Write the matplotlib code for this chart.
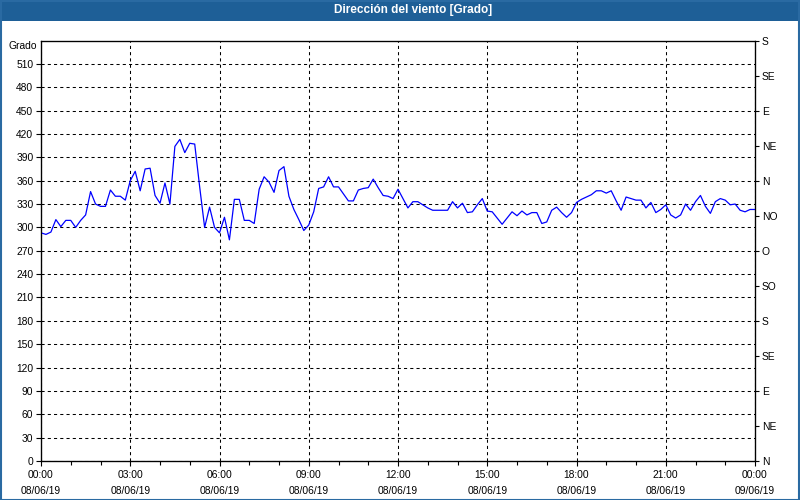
import matplotlib
matplotlib.use("Agg")
import matplotlib.pyplot as plt
import matplotlib.dates as mdates
from matplotlib.patches import Rectangle
import numpy as np
import pandas as pd

# ---- data ----
title = "Dirección del viento [Grado]"
start_time = "2019-06-08 00:00"
end_time = "2019-06-09 00:00"
sample_freq = "10min"
direction = [
    293, 291, 294, 310, 301, 309, 309, 300, 309, 316,
    346, 330, 327, 327, 348, 340, 340, 335, 360, 372,
    347, 375, 376, 341, 331, 357, 330, 404, 413, 396,
    408, 407, 352, 300, 326, 300, 293, 313, 284, 336,
    336, 309, 309, 305, 349, 365, 358, 345, 373, 378,
    340, 323, 310, 296, 303, 320, 350, 352, 365, 352,
    352, 343, 334, 334, 348, 350, 351, 362, 351, 341,
    340, 337, 349, 337, 325, 333, 333, 329, 325, 322,
    322, 322, 322, 333, 325, 331, 319, 320, 329, 337,
    321, 320, 312, 304, 312, 320, 315, 321, 316, 319,
    319, 305, 307, 322, 326, 319, 313, 319, 332, 336,
    339, 342, 347, 347, 344, 347, 334, 322, 339, 337,
    335, 335, 325, 332, 319, 323, 329, 316, 312, 316,
    330, 322, 333, 341, 327, 318, 333, 337, 335, 329,
    330, 322, 320, 323, 323,
]
left_ticks = list(range(0, 511, 30))
left_labels = [str(v) for v in left_ticks]
right_ticks = list(range(0, 541, 45))
right_labels = ["N", "NE", "E", "SE", "S", "SO", "O", "NO", "N", "NE", "E", "SE", "S"]
unit_label = "Grado"

times = pd.date_range(start_time, periods=len(direction), freq=sample_freq)

FONT = "Liberation Sans"
FS = 7.4
BLUE_BAR = "#1e5f97"

fig = plt.figure(figsize=(8, 5), dpi=100, facecolor="white")
W, H = 800, 500

# window frame + title bar
fig.patches.append(Rectangle((0, 1 - 21 / H), 1, 21 / H, transform=fig.transFigure,
                             facecolor=BLUE_BAR, edgecolor="none", zorder=0))
fig.patches.append(Rectangle((0.5 / W, 0.5 / H), 1 - 1.5 / W, 1 - 1.5 / H, transform=fig.transFigure,
                             facecolor="none", edgecolor="#2a6aa2", linewidth=1.5, zorder=1))
fig.text(413 / W, 1 - 10.5 / H, title, color="white", fontsize=8.5, fontweight="bold",
         family=FONT, ha="center", va="center")

ax = fig.add_axes([41 / W, 39 / H, (755 - 41) / W, (461 - 40.5) / H])
ax.set_facecolor("white")
ax.plot(times, direction, color="#0000ff", linewidth=0.9, zorder=3)

ax.set_ylim(0, 540)
ax.set_xlim(pd.Timestamp(start_time), pd.Timestamp(end_time))
ax.set_yticks(left_ticks)
ax.set_yticklabels(left_labels, family=FONT, fontsize=FS)

ax.xaxis.set_major_locator(mdates.HourLocator(interval=3))
ax.xaxis.set_minor_locator(mdates.HourLocator(interval=1))
ax.xaxis.set_major_formatter(mdates.DateFormatter("%H:%M\n%d/%m/%y"))

ax.tick_params(axis="both", which="major", direction="out", length=3.5, width=0.8,
               color="black", labelcolor="black", pad=2)
ax.tick_params(axis="x", which="minor", direction="out", length=3, width=0.8, color="black")
ax.tick_params(axis="x", which="major", pad=3)

ax.grid(True, which="major", color="black", linestyle=(0, (3.0, 3.0)), linewidth=0.75, zorder=1)
for s in ax.spines.values():
    s.set_color("black")
    s.set_linewidth(0.9)

ax2 = ax.twinx()
ax2.set_ylim(0, 540)
ax2.set_yticks(right_ticks)
ax2.set_yticklabels(right_labels, family=FONT, fontsize=FS)
ax2.tick_params(axis="y", direction="out", length=3, width=0.8, pad=2)

fig.text(37 / W, 1 - 46 / H, unit_label, family=FONT, fontsize=FS, ha="right", va="center")

for lbl in ax.get_xticklabels():
    lbl.set_family(FONT)
    lbl.set_fontsize(FS)
    lbl.set_linespacing(1.75)

fig.savefig("out.png", dpi=100, facecolor="white")
